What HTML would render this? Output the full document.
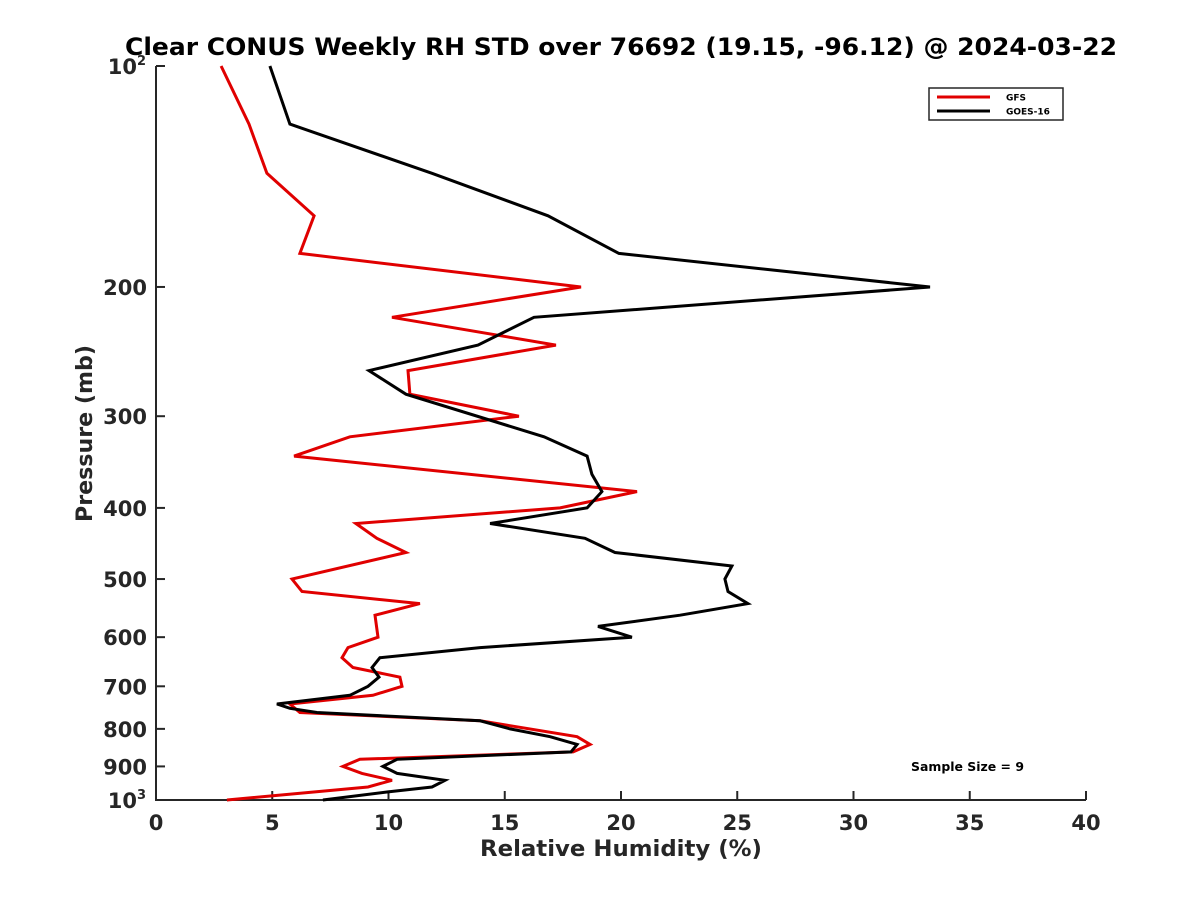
<!DOCTYPE html>
<html><head><meta charset="utf-8"><style>
body{margin:0;background:#fff;}
svg{display:block;font-family:"DejaVu Sans","Liberation Sans",sans-serif;}
</style></head><body>
<svg id="chart" width="1200" height="900" viewBox="0 0 1200 900">
<rect width="1200" height="900" fill="#fff"/>
<text x="125" y="55" textLength="992" lengthAdjust="spacingAndGlyphs" font-size="24" font-weight="bold" fill="#000">Clear CONUS Weekly RH STD over 76692 (19.15, -96.12) @ 2024-03-22</text>
<g id="axes"></g>
<g id="series"></g>
<text x="480" y="856" textLength="282" lengthAdjust="spacingAndGlyphs" font-size="22" font-weight="bold" fill="#262626">Relative Humidity (%)</text>
<text transform="translate(92,522) rotate(-90)" textLength="177" lengthAdjust="spacingAndGlyphs" font-size="22" font-weight="bold" fill="#262626">Pressure (mb)</text>
<g>
<rect x="929" y="88" width="134" height="32" fill="#fff" stroke="#262626" stroke-width="1.5"/>
<line x1="937" y1="97" x2="990" y2="97" stroke="#e00000" stroke-width="3"/>
<text x="1006" y="100.5" font-size="9" font-weight="bold">GFS</text>
<line x1="937" y1="111" x2="990" y2="111" stroke="#000" stroke-width="3"/>
<text x="1006" y="114.5" font-size="9" font-weight="bold">GOES-16</text>
</g>
<text x="911" y="771" textLength="113" lengthAdjust="spacingAndGlyphs" font-size="12.5" font-weight="bold">Sample Size = 9</text>
</svg>
<script>
const xTicks=[0,5,10,15,20,25,30,35,40];
const yTicks=[100,200,300,400,500,600,700,800,900,1000];
const yTickLabels=["","200","300","400","500","600","700","800","900",""];
const gfsPressure=[100,120,140,160,180,200,220,240,260,280,300,320,340,380,400,420,440,460,500,520,540,560,600,620,640,660,680,700,720,740,760,780,820,840,860,880,900,920,940,960,1000];
const gfsValues=[2.8,4.0,4.77,6.8,6.19,18.28,10.15,17.2,10.84,10.92,15.61,8.34,5.94,20.69,17.38,8.6,9.5,10.75,5.85,6.28,11.35,9.42,9.55,8.26,8.0,8.47,10.49,10.58,9.33,5.76,6.19,13.94,18.11,18.67,17.94,8.77,8.04,8.86,10.15,9.12,3.05];
const goesPressure=[100,120,140,160,180,200,220,240,260,280,320,340,360,380,400,420,440,460,480,500,520,540,560,580,600,620,640,660,680,700,720,740,750,760,780,800,820,840,860,880,900,920,940,960,975,1000];
const goesValues=[4.9,5.76,11.87,16.86,19.91,33.29,16.26,13.85,9.16,10.75,16.69,18.54,18.75,19.18,18.54,14.37,18.45,19.74,24.77,24.47,24.6,25.46,22.54,19.01,20.47,13.94,9.63,9.29,9.59,9.12,8.34,5.2,5.76,6.92,13.94,15.23,16.95,18.11,17.85,10.37,9.76,10.37,12.43,11.87,9.98,7.18];

const X0=156,X1=1086,Y0=66,Y1=800;
const xs=v=>X0+(v-0)/(40-0)*(X1-X0);
const ys=p=>Y0+Math.log10(p/100)*(Y1-Y0);
const NS="http://www.w3.org/2000/svg";
function mk(tag,attrs,parent){const e=document.createElementNS(NS,tag);for(const k in attrs)e.setAttribute(k,attrs[k]);parent.appendChild(e);return e;}
const axes=document.getElementById('axes');
const C="#262626";
let e=mk('line',{x1:X0,y1:Y0,x2:X0,y2:Y1+1,stroke:C,'stroke-width':2},axes);


e=mk('line',{x1:X0-1,y1:Y1,x2:X1,y2:Y1,stroke:C,'stroke-width':2},axes);


xTicks.forEach(v=>{
  const x=xs(v);
  const t=mk('line',{x1:x,y1:Y1,x2:x,y2:Y1-9,stroke:C,'stroke-width':2},axes);
  
  
  const l=mk('text',{x:x,y:Y1+30,'text-anchor':'middle','font-size':21,'font-weight':'bold',fill:C},axes);
  l.textContent=String(v);
  
  
});
yTicks.forEach((p,i)=>{
  const y=ys(p);
  const t=mk('line',{x1:X0,y1:y,x2:X0+9,y2:y,stroke:C,'stroke-width':2},axes);
  
  
  if(yTickLabels[i]){
    const l=mk('text',{x:147,y:y+8,'text-anchor':'end','font-size':21,'font-weight':'bold',fill:C},axes);
    l.textContent=yTickLabels[i];
    
    
  }
});
[[100,"2"],[1000,"3"]].forEach(([p,ex])=>{
  const y=ys(p);
  const l=mk('text',{x:137,y:y+8,'text-anchor':'end','font-size':21,'font-weight':'bold',fill:C},axes);
  l.textContent="10";
  
  
  const s=mk('text',{x:137,y:y-1,'font-size':13,'font-weight':'bold',fill:C},axes);
  s.textContent=ex;
  
  
});
const ser=document.getElementById('series');
function line(ps,vs,col,name){
  const pts=ps.map((p,i)=>xs(vs[i]).toFixed(1)+','+ys(p).toFixed(1)).join(' ');
  const pl=mk('polyline',{points:pts,fill:'none',stroke:col,'stroke-width':3,'stroke-linejoin':'miter'},ser);
  
  
}
line(gfsPressure,gfsValues,'#e00000','gfs-line');
line(goesPressure,goesValues,'#000000','goes16-line');
</script>
</body></html>
